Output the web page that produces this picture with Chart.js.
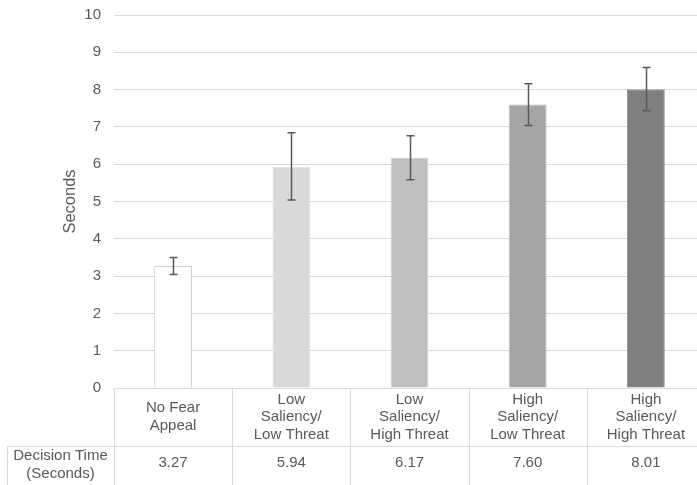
<!DOCTYPE html>
<html>
<head>
<meta charset="utf-8">
<script src="https://cdn.jsdelivr.net/npm/chart.js@4.4.1/dist/chart.umd.min.js"></script>
<style>
  html, body { margin: 0; padding: 0; background: #fff; overflow: hidden; }
  #wrap { width: 697px; height: 485px; overflow: hidden; }
</style>
</head>
<body>
<div id="wrap"><canvas id="chart" width="705" height="485"></canvas></div>
<script>
const categories = [
  ["No Fear", "Appeal"],
  ["Low", "Saliency/", "Low Threat"],
  ["Low", "Saliency/", "High Threat"],
  ["High", "Saliency/", "Low Threat"],
  ["High", "Saliency/", "High Threat"]
];
const decisionTime = [3.27, 5.94, 6.17, 7.60, 8.01];
const errorMargin = [0.23, 0.90, 0.59, 0.56, 0.58];
const rowLabel = ["Decision Time", "(Seconds)"];
const barColors = ["#ffffff", "#d9d9d9", "#bfbfbf", "#a5a5a5", "#7f7f7f"];
const barBorders = ["#d0d0d0", "#e3e3e3", "#cfcfcf", "#b8b8b8", "#989898"];

const textColor = "#595959";
const lineColor = "#d9d9d9";
const font = "15px 'Liberation Sans', Arial, sans-serif";

Chart.defaults.font.family = "'Liberation Sans', Arial, sans-serif";
Chart.defaults.font.size = 15;
Chart.defaults.color = textColor;

const errorBars = {
  id: "errorBars",
  afterDatasetsDraw(chart) {
    const { ctx, scales: { x, y } } = chart;
    ctx.save();
    ctx.strokeStyle = "#5a5a5a";
    ctx.lineWidth = 1.5;
    decisionTime.forEach((v, i) => {
      const cx = Math.round(x.getPixelForValue(i)) + 0.5;
      const top = y.getPixelForValue(v + errorMargin[i]);
      const bot = y.getPixelForValue(v - errorMargin[i]);
      ctx.beginPath();
      ctx.moveTo(cx, top); ctx.lineTo(cx, bot);
      ctx.moveTo(cx - 4, top); ctx.lineTo(cx + 4, top);
      ctx.moveTo(cx - 4, bot); ctx.lineTo(cx + 4, bot);
      ctx.stroke();
    });
    ctx.restore();
  }
};

const dataTable = {
  id: "dataTable",
  afterDraw(chart) {
    const { ctx, chartArea, scales: { x } } = chart;
    const step = x.getPixelForValue(1) - x.getPixelForValue(0);
    const top = chartArea.bottom;
    const mid = top + 58;
    const bottom = chart.height;
    ctx.save();
    ctx.strokeStyle = lineColor;
    ctx.lineWidth = 1;
    ctx.beginPath();
    // column separators
    for (let i = 0; i <= categories.length; i++) {
      const lx = Math.round(x.getPixelForValue(i) - step / 2) + 0.5;
      ctx.moveTo(lx, top); ctx.lineTo(lx, bottom);
    }
    ctx.moveTo(7.5, mid); ctx.lineTo(7.5, bottom);
    ctx.moveTo(7, Math.round(mid) + 0.5); ctx.lineTo(chart.width, Math.round(mid) + 0.5);
    ctx.stroke();

    ctx.fillStyle = textColor;
    ctx.font = font;
    ctx.textAlign = "center";
    ctx.textBaseline = "middle";
    const lh = 17.5;
    categories.forEach((lines, i) => {
      const cx = x.getPixelForValue(i);
      const y0 = (top + mid) / 2 - (lines.length - 1) * lh / 2;
      lines.forEach((t, k) => ctx.fillText(t, cx, y0 + k * lh));
      ctx.fillText(decisionTime[i].toFixed(2), cx, mid + 17);
    });
    const lx = (7 + x.getPixelForValue(0) - step / 2) / 2;
    ctx.fillText(rowLabel[0], lx, mid + 9.5);
    ctx.fillText(rowLabel[1], lx, mid + 27.5);

    // y axis title
    ctx.font = "16.5px 'Liberation Sans', Arial, sans-serif";
    ctx.translate(70, (chartArea.top + chartArea.bottom) / 2);
    ctx.rotate(-Math.PI / 2);
    ctx.fillText("Seconds", 0, 0);
    ctx.restore();
  }
};

new Chart(document.getElementById("chart"), {
  type: "bar",
  data: {
    labels: categories,
    datasets: [{
      data: decisionTime,
      backgroundColor: barColors,
      borderColor: barBorders,
      borderWidth: 1,
      barPercentage: 0.32,
      categoryPercentage: 1
    }]
  },
  options: {
    responsive: false,
    animation: false,
    layout: { padding: { top: 15, bottom: 97, left: 0, right: 0 } },
    plugins: { legend: { display: false }, tooltip: { enabled: false } },
    scales: {
      x: { display: false },
      y: {
        min: 0,
        max: 10,
        ticks: { stepSize: 1, padding: 13, color: textColor },
        grid: { color: lineColor, drawTicks: false },
        border: { display: false },
        afterFit(scale) {
          scale.width = 114;
          scale.paddingTop = 0;
          scale.paddingBottom = 0;
        }
      }
    }
  },
  plugins: [errorBars, dataTable]
});
</script>
</body>
</html>
